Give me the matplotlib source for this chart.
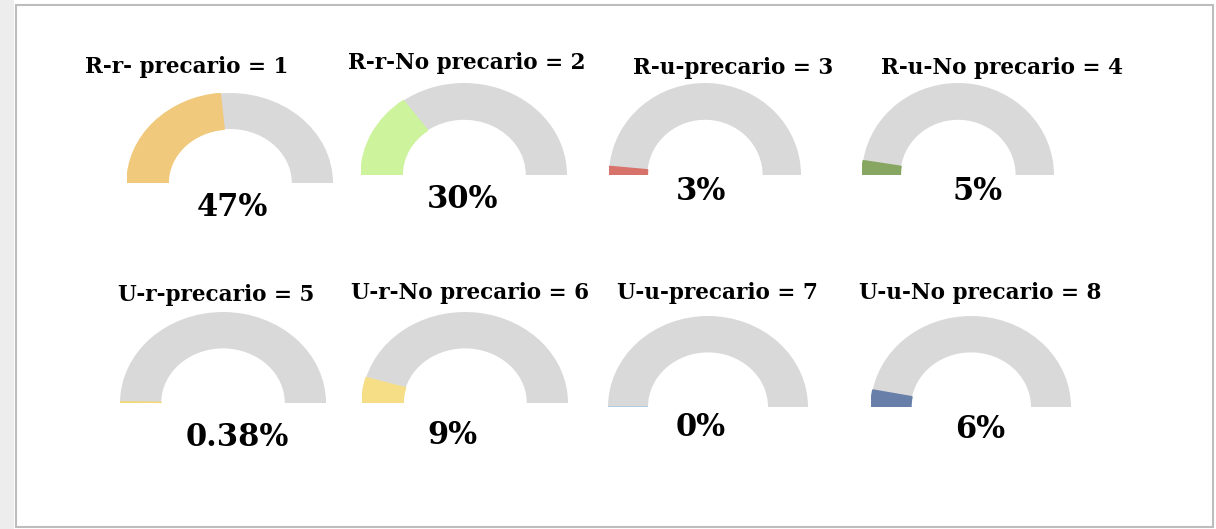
import matplotlib
matplotlib.use('Agg')
import matplotlib.pyplot as plt
from matplotlib.patches import Wedge, Rectangle

# data
titles = ['R-r- precario = 1', 'R-r-No precario = 2', 'R-u-precario = 3', 'R-u-No precario = 4',
          'U-r-precario = 5', 'U-r-No precario = 6', 'U-u-precario = 7', 'U-u-No precario = 8']
values = [47, 30, 3, 5, 0.38, 9, 0, 6]
labels = ['47%', '30%', '3%', '5%', '0.38%', '9%', '0%', '6%']
colors = ['#F0C97C', '#CDF39C', '#D8736C', '#86A661', '#F5D872', '#F6DE86', '#9DC4E6', '#687FAA']
rest_color = '#D9D9D9'

# layout in pixels (screenshot coordinates)
W, H = 1216, 529
gauge_cx = [230, 464, 705, 958, 223, 465, 708, 971]
gauge_base = [183, 175, 175, 175, 403, 403, 407, 407]
gauge_rx = [103, 103, 96, 96, 103, 103, 100, 100]
gauge_ry = [90, 92, 92, 92, 91, 91, 91, 91]
title_xy = [(187, 67), (467, 63), (733, 68), (1002, 68),
            (216, 295), (470, 293), (717, 293), (980, 293)]
label_xy = [(232, 207), (463, 199), (701, 192), (978, 192),
            (237, 438), (452, 436), (701, 428), (980, 430)]

fig = plt.figure(figsize=(W / 100, H / 100), dpi=100)
fig.patch.set_facecolor('white')

# screenshot frame
bg = fig.add_axes([0, 0, 1, 1])
bg.set_xlim(0, W)
bg.set_ylim(H, 0)
bg.axis('off')
bg.add_patch(Rectangle((0, 0), 14, H, facecolor='#EDEDED', edgecolor='none'))
bg.add_patch(Rectangle((16, 5), 1197, 522, facecolor='white', edgecolor='#BDBDBD', lw=1.5))

font = 'DejaVu Serif'

for i in range(8):
    cx, base, rx, ry = gauge_cx[i], gauge_base[i], gauge_rx[i], gauge_ry[i]
    ax = fig.add_axes([(cx - rx) / W, 1 - base / H, 2 * rx / W, ry / H])
    ax.set_xlim(-1, 1)
    ax.set_ylim(0, 1)
    ax.axis('off')
    split = 180 - values[i] / 100 * 180
    ax.add_patch(Wedge((0, 0), 1, 0, split, width=0.4, facecolor=rest_color, edgecolor='none'))
    ax.add_patch(Wedge((0, 0), 1, split, 180, width=0.4, facecolor=colors[i],
                       edgecolor=colors[i], lw=1))

    tx, ty = title_xy[i]
    fig.text(tx / W, 1 - ty / H, titles[i], ha='center', va='center',
             fontsize=15.5, fontweight='bold', family=font, color='black')
    lx, ly = label_xy[i]
    fig.text(lx / W, 1 - ly / H, labels[i], ha='center', va='center',
             fontsize=22, fontweight='bold', family=font, color='black')

fig.savefig('out.png', dpi=100)
